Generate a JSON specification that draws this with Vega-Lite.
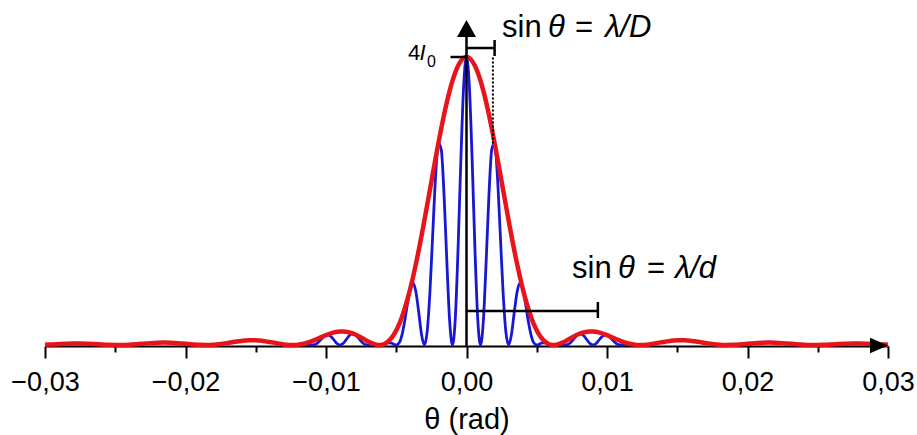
{
  "$schema": "https://vega.github.io/schema/vega-lite/v6.json",
  "width": 843,
  "height": 328,
  "autosize": {"type": "none"},
  "padding": {"left": 45, "top": 18, "right": 29, "bottom": 89},
  "background": "white",
  "config": {"view": {"stroke": null}, "font": "Liberation Sans"},
  "datasets": {
    "blue": [
      {"x": -0.013, "y": 0}, {"x": -0.0128, "y": 0.0004}, {"x": -0.0126, "y": 0.0003}, {"x": -0.0124, "y": 0}, {"x": -0.0122, "y": 0.001},
      {"x": -0.012, "y": 0.0044}, {"x": -0.0118, "y": 0.0091}, {"x": -0.0116, "y": 0.0118}, {"x": -0.0114, "y": 0.0098}, {"x": -0.0112, "y": 0.0039},
      {"x": -0.011, "y": 0}, {"x": -0.0108, "y": 0.0067}, {"x": -0.0106, "y": 0.03}, {"x": -0.0104, "y": 0.0679}, {"x": -0.0102, "y": 0.1092},
      {"x": -0.01, "y": 0.137}, {"x": -0.0098, "y": 0.1375}, {"x": -0.0096, "y": 0.1081}, {"x": -0.0094, "y": 0.0608}, {"x": -0.0092, "y": 0.0175},
      {"x": -0.009, "y": 0}, {"x": -0.0088, "y": 0.018}, {"x": -0.0086, "y": 0.064}, {"x": -0.0084, "y": 0.1165}, {"x": -0.0082, "y": 0.1509},
      {"x": -0.008, "y": 0.1522}, {"x": -0.0078, "y": 0.1217}, {"x": -0.0076, "y": 0.0749}, {"x": -0.0074, "y": 0.0321}, {"x": -0.0072, "y": 0.0068},
      {"x": -0.007, "y": 0}, {"x": -0.0068, "y": 0.0029}, {"x": -0.0066, "y": 0.005}, {"x": -0.0064, "y": 0.0026}, {"x": -0.0062, "y": 0},
      {"x": -0.006, "y": 0.0044}, {"x": -0.0058, "y": 0.017}, {"x": -0.0056, "y": 0.0291}, {"x": -0.0054, "y": 0.0287}, {"x": -0.0052, "y": 0.013},
      {"x": -0.005, "y": 0}, {"x": -0.0048, "y": 0.0274}, {"x": -0.0046, "y": 0.1336}, {"x": -0.0044, "y": 0.3294}, {"x": -0.0042, "y": 0.5753},
      {"x": -0.004, "y": 0.7849}, {"x": -0.0038, "y": 0.8582}, {"x": -0.0036, "y": 0.7373}, {"x": -0.0034, "y": 0.4549}, {"x": -0.0032, "y": 0.1449},
      {"x": -0.003, "y": 0}, {"x": -0.0028, "y": 0.1854}, {"x": -0.0026, "y": 0.7462}, {"x": -0.0024, "y": 1.5567}, {"x": -0.0022, "y": 2.3468},
      {"x": -0.002, "y": 2.805}, {"x": -0.0018, "y": 2.7197}, {"x": -0.0016, "y": 2.0924}, {"x": -0.0014, "y": 1.1652}, {"x": -0.0012, "y": 0.3372},
      {"x": -0.001, "y": 0}, {"x": -0.0008, "y": 0.3615}, {"x": -0.0006, "y": 1.3399}, {"x": -0.0004, "y": 2.5824}, {"x": -0.0002, "y": 3.6057},
      {"x": 0, "y": 4},
      {"x": 0.0002, "y": 3.6057}, {"x": 0.0004, "y": 2.5824}, {"x": 0.0006, "y": 1.3399}, {"x": 0.0008, "y": 0.3615}, {"x": 0.001, "y": 0},
      {"x": 0.0012, "y": 0.3372}, {"x": 0.0014, "y": 1.1652}, {"x": 0.0016, "y": 2.0924}, {"x": 0.0018, "y": 2.7197}, {"x": 0.002, "y": 2.805},
      {"x": 0.0022, "y": 2.3468}, {"x": 0.0024, "y": 1.5567}, {"x": 0.0026, "y": 0.7462}, {"x": 0.0028, "y": 0.1854}, {"x": 0.003, "y": 0},
      {"x": 0.0032, "y": 0.1449}, {"x": 0.0034, "y": 0.4549}, {"x": 0.0036, "y": 0.7373}, {"x": 0.0038, "y": 0.8582}, {"x": 0.004, "y": 0.7849},
      {"x": 0.0042, "y": 0.5753}, {"x": 0.0044, "y": 0.3294}, {"x": 0.0046, "y": 0.1336}, {"x": 0.0048, "y": 0.0274}, {"x": 0.005, "y": 0},
      {"x": 0.0052, "y": 0.013}, {"x": 0.0054, "y": 0.0287}, {"x": 0.0056, "y": 0.0291}, {"x": 0.0058, "y": 0.017}, {"x": 0.006, "y": 0.0044},
      {"x": 0.0062, "y": 0}, {"x": 0.0064, "y": 0.0026}, {"x": 0.0066, "y": 0.005}, {"x": 0.0068, "y": 0.0029}, {"x": 0.007, "y": 0},
      {"x": 0.0072, "y": 0.0068}, {"x": 0.0074, "y": 0.0321}, {"x": 0.0076, "y": 0.0749}, {"x": 0.0078, "y": 0.1217}, {"x": 0.008, "y": 0.1522},
      {"x": 0.0082, "y": 0.1509}, {"x": 0.0084, "y": 0.1165}, {"x": 0.0086, "y": 0.064}, {"x": 0.0088, "y": 0.018}, {"x": 0.009, "y": 0},
      {"x": 0.0092, "y": 0.0175}, {"x": 0.0094, "y": 0.0608}, {"x": 0.0096, "y": 0.1081}, {"x": 0.0098, "y": 0.1375}, {"x": 0.01, "y": 0.137},
      {"x": 0.0102, "y": 0.1092}, {"x": 0.0104, "y": 0.0679}, {"x": 0.0106, "y": 0.03}, {"x": 0.0108, "y": 0.0067}, {"x": 0.011, "y": 0},
      {"x": 0.0112, "y": 0.0039}, {"x": 0.0114, "y": 0.0098}, {"x": 0.0116, "y": 0.0118}, {"x": 0.0118, "y": 0.0091}, {"x": 0.012, "y": 0.0044},
      {"x": 0.0122, "y": 0.001}, {"x": 0.0124, "y": 0}, {"x": 0.0126, "y": 0.0003}, {"x": 0.0128, "y": 0.0004}, {"x": 0.013, "y": 0}
    ],
    "red": [
      {"x": -0.03, "y": 0.0041}, {"x": -0.0295, "y": 0.0085}, {"x": -0.029, "y": 0.0133}, {"x": -0.0285, "y": 0.0175}, {"x": -0.028, "y": 0.0198},
      {"x": -0.0275, "y": 0.0198}, {"x": -0.027, "y": 0.0172}, {"x": -0.0265, "y": 0.0128}, {"x": -0.026, "y": 0.0075}, {"x": -0.0255, "y": 0.0029},
      {"x": -0.025, "y": 0.0003}, {"x": -0.0245, "y": 0.0006}, {"x": -0.024, "y": 0.0042}, {"x": -0.0235, "y": 0.0106}, {"x": -0.023, "y": 0.0184},
      {"x": -0.0225, "y": 0.026}, {"x": -0.022, "y": 0.0315}, {"x": -0.0215, "y": 0.0334}, {"x": -0.021, "y": 0.0311}, {"x": -0.0205, "y": 0.025},
      {"x": -0.02, "y": 0.0165}, {"x": -0.0195, "y": 0.008}, {"x": -0.019, "y": 0.0018}, {"x": -0.0185, "y": 0.0001}, {"x": -0.018, "y": 0.0043},
      {"x": -0.0175, "y": 0.0142}, {"x": -0.017, "y": 0.0283}, {"x": -0.0165, "y": 0.0438}, {"x": -0.016, "y": 0.057}, {"x": -0.0155, "y": 0.0649},
      {"x": -0.015, "y": 0.0649}, {"x": -0.0145, "y": 0.0567}, {"x": -0.014, "y": 0.0418}, {"x": -0.0135, "y": 0.0239},
      {"x": -0.013, "y": 0.0083}, {"x": -0.0128, "y": 0.0039}, {"x": -0.0126, "y": 0.001}, {"x": -0.0124, "y": 0}, {"x": -0.0122, "y": 0.0011},
      {"x": -0.012, "y": 0.0044}, {"x": -0.0118, "y": 0.01}, {"x": -0.0116, "y": 0.018}, {"x": -0.0114, "y": 0.0282}, {"x": -0.0112, "y": 0.0405},
      {"x": -0.011, "y": 0.0546}, {"x": -0.0108, "y": 0.0702}, {"x": -0.0106, "y": 0.0867}, {"x": -0.0104, "y": 0.1037}, {"x": -0.0102, "y": 0.1207},
      {"x": -0.01, "y": 0.137}, {"x": -0.0098, "y": 0.152}, {"x": -0.0096, "y": 0.1652}, {"x": -0.0094, "y": 0.1759}, {"x": -0.0092, "y": 0.1836},
      {"x": -0.009, "y": 0.1879}, {"x": -0.0088, "y": 0.1885}, {"x": -0.0086, "y": 0.1852}, {"x": -0.0084, "y": 0.178}, {"x": -0.0082, "y": 0.1669},
      {"x": -0.008, "y": 0.1522}, {"x": -0.0078, "y": 0.1345}, {"x": -0.0076, "y": 0.1144}, {"x": -0.0074, "y": 0.0928}, {"x": -0.0072, "y": 0.0708},
      {"x": -0.007, "y": 0.0494}, {"x": -0.0068, "y": 0.0302}, {"x": -0.0066, "y": 0.0145}, {"x": -0.0064, "y": 0.0039}, {"x": -0.0062, "y": 0},
      {"x": -0.006, "y": 0.0044}, {"x": -0.0058, "y": 0.0188}, {"x": -0.0056, "y": 0.0445}, {"x": -0.0054, "y": 0.0831}, {"x": -0.0052, "y": 0.1357},
      {"x": -0.005, "y": 0.2034}, {"x": -0.0048, "y": 0.2869}, {"x": -0.0046, "y": 0.3868}, {"x": -0.0044, "y": 0.5032}, {"x": -0.0042, "y": 0.6361},
      {"x": -0.004, "y": 0.7849}, {"x": -0.0038, "y": 0.9487}, {"x": -0.0036, "y": 1.1266}, {"x": -0.0034, "y": 1.3168}, {"x": -0.0032, "y": 1.5175},
      {"x": -0.003, "y": 1.7266}, {"x": -0.0028, "y": 1.9416}, {"x": -0.0026, "y": 2.1598}, {"x": -0.0024, "y": 2.3785}, {"x": -0.0022, "y": 2.5946},
      {"x": -0.002, "y": 2.805}, {"x": -0.0018, "y": 3.0068}, {"x": -0.0016, "y": 3.1969}, {"x": -0.0014, "y": 3.3725}, {"x": -0.0012, "y": 3.5307},
      {"x": -0.001, "y": 3.6692}, {"x": -0.0008, "y": 3.7857}, {"x": -0.0006, "y": 3.8783}, {"x": -0.0004, "y": 3.9455}, {"x": -0.0002, "y": 3.9863},
      {"x": 0, "y": 4},
      {"x": 0.0002, "y": 3.9863}, {"x": 0.0004, "y": 3.9455}, {"x": 0.0006, "y": 3.8783}, {"x": 0.0008, "y": 3.7857}, {"x": 0.001, "y": 3.6692},
      {"x": 0.0012, "y": 3.5307}, {"x": 0.0014, "y": 3.3725}, {"x": 0.0016, "y": 3.1969}, {"x": 0.0018, "y": 3.0068}, {"x": 0.002, "y": 2.805},
      {"x": 0.0022, "y": 2.5946}, {"x": 0.0024, "y": 2.3785}, {"x": 0.0026, "y": 2.1598}, {"x": 0.0028, "y": 1.9416}, {"x": 0.003, "y": 1.7266},
      {"x": 0.0032, "y": 1.5175}, {"x": 0.0034, "y": 1.3168}, {"x": 0.0036, "y": 1.1266}, {"x": 0.0038, "y": 0.9487}, {"x": 0.004, "y": 0.7849},
      {"x": 0.0042, "y": 0.6361}, {"x": 0.0044, "y": 0.5032}, {"x": 0.0046, "y": 0.3868}, {"x": 0.0048, "y": 0.2869}, {"x": 0.005, "y": 0.2034},
      {"x": 0.0052, "y": 0.1357}, {"x": 0.0054, "y": 0.0831}, {"x": 0.0056, "y": 0.0445}, {"x": 0.0058, "y": 0.0188}, {"x": 0.006, "y": 0.0044},
      {"x": 0.0062, "y": 0}, {"x": 0.0064, "y": 0.0039}, {"x": 0.0066, "y": 0.0145}, {"x": 0.0068, "y": 0.0302}, {"x": 0.007, "y": 0.0494},
      {"x": 0.0072, "y": 0.0708}, {"x": 0.0074, "y": 0.0928}, {"x": 0.0076, "y": 0.1144}, {"x": 0.0078, "y": 0.1345}, {"x": 0.008, "y": 0.1522},
      {"x": 0.0082, "y": 0.1669}, {"x": 0.0084, "y": 0.178}, {"x": 0.0086, "y": 0.1852}, {"x": 0.0088, "y": 0.1885}, {"x": 0.009, "y": 0.1879},
      {"x": 0.0092, "y": 0.1836}, {"x": 0.0094, "y": 0.1759}, {"x": 0.0096, "y": 0.1652}, {"x": 0.0098, "y": 0.152}, {"x": 0.01, "y": 0.137},
      {"x": 0.0102, "y": 0.1207}, {"x": 0.0104, "y": 0.1037}, {"x": 0.0106, "y": 0.0867}, {"x": 0.0108, "y": 0.0702}, {"x": 0.011, "y": 0.0546},
      {"x": 0.0112, "y": 0.0405}, {"x": 0.0114, "y": 0.0282}, {"x": 0.0116, "y": 0.018}, {"x": 0.0118, "y": 0.01}, {"x": 0.012, "y": 0.0044},
      {"x": 0.0122, "y": 0.0011}, {"x": 0.0124, "y": 0}, {"x": 0.0126, "y": 0.001}, {"x": 0.0128, "y": 0.0039}, {"x": 0.013, "y": 0.0083},
      {"x": 0.0135, "y": 0.0239}, {"x": 0.014, "y": 0.0418}, {"x": 0.0145, "y": 0.0567}, {"x": 0.015, "y": 0.0649}, {"x": 0.0155, "y": 0.0649},
      {"x": 0.016, "y": 0.057}, {"x": 0.0165, "y": 0.0438}, {"x": 0.017, "y": 0.0283}, {"x": 0.0175, "y": 0.0142}, {"x": 0.018, "y": 0.0043},
      {"x": 0.0185, "y": 0.0001}, {"x": 0.019, "y": 0.0018}, {"x": 0.0195, "y": 0.008}, {"x": 0.02, "y": 0.0165}, {"x": 0.0205, "y": 0.025},
      {"x": 0.021, "y": 0.0311}, {"x": 0.0215, "y": 0.0334}, {"x": 0.022, "y": 0.0315}, {"x": 0.0225, "y": 0.026}, {"x": 0.023, "y": 0.0184},
      {"x": 0.0235, "y": 0.0106}, {"x": 0.024, "y": 0.0042}, {"x": 0.0245, "y": 0.0006}, {"x": 0.025, "y": 0.0003}, {"x": 0.0255, "y": 0.0029},
      {"x": 0.026, "y": 0.0075}, {"x": 0.0265, "y": 0.0128}, {"x": 0.027, "y": 0.0172}, {"x": 0.0275, "y": 0.0198}, {"x": 0.028, "y": 0.0198},
      {"x": 0.0285, "y": 0.0175}, {"x": 0.029, "y": 0.0133}, {"x": 0.0295, "y": 0.0085}, {"x": 0.03, "y": 0.0041}
    ],
    "lines": [
      {"x": 0, "y": -0.0139, "x2": 0, "y2": 4.278},
      {"x": -0.00114, "y": 4, "x2": 0, "y2": 4},
      {"x": 0, "y": 4.125, "x2": 0.002, "y2": 4.125},
      {"x": 0.002, "y": 4.014, "x2": 0.002, "y2": 4.236},
      {"x": 0, "y": 0.472, "x2": 0.00935, "y2": 0.472},
      {"x": 0.00935, "y": 0.375, "x2": 0.00935, "y2": 0.597}
    ],
    "dotted": [
      {"x": 0.00188, "y": 2.8, "x2": 0.00188, "y2": 4.0}
    ],
    "textNormal": [
      {"x": 0.00253, "y": 4.278, "t": "sin"},
      {"x": 0.00772, "y": 4.278, "t": "="},
      {"x": 0.00751, "y": 0.931, "t": "sin"},
      {"x": 0.01285, "y": 0.931, "t": "="}
    ],
    "textItalic": [
      {"x": 0.0058, "y": 4.278, "t": "θ"},
      {"x": 0.00986, "y": 4.278, "t": "λ/D"},
      {"x": 0.01078, "y": 0.931, "t": "θ"},
      {"x": 0.01484, "y": 0.931, "t": "λ/d"}
    ]
  },
  "encoding": {
    "x": {
      "field": "x",
      "type": "quantitative",
      "scale": {"domain": [-0.03, 0.03], "nice": false, "zero": false},
      "axis": {
        "values": [-0.03, -0.025, -0.02, -0.015, -0.01, -0.005, 0, 0.005, 0.01, 0.015, 0.02, 0.025, 0.03],
        "labelExpr": "round(datum.value*1000) % 10 == 0 ? replace(format(datum.value, '.2f'), '.', ',') : ''",
        "tickSize": {"condition": {"test": "round(datum.value*1000) % 10 == 0", "value": 12}, "value": 6},
        "tickColor": "black",
        "tickWidth": 2,
        "domainColor": "black",
        "domainWidth": 2,
        "grid": false,
        "labelFont": "Liberation Sans",
        "labelFontSize": 27,
        "labelColor": "black",
        "labelPadding": 11,
        "labelFlush": false,
        "labelOverlap": false,
        "title": "θ (rad)",
        "titleFont": "Liberation Sans",
        "titleFontSize": 29,
        "titleFontWeight": "normal",
        "titleColor": "black",
        "titlePadding": 10
      }
    },
    "y": {
      "field": "y",
      "type": "quantitative",
      "scale": {"domain": [-0.0139, 4.542], "nice": false, "zero": false},
      "axis": null
    }
  },
  "layer": [
    {
      "data": {"name": "blue"},
      "mark": {"type": "line", "color": "#1818d4", "strokeWidth": 2.8, "interpolate": "monotone"}
    },
    {
      "data": {"name": "red"},
      "mark": {"type": "line", "color": "#e8141c", "strokeWidth": 4.5, "interpolate": "monotone"}
    },
    {
      "data": {"name": "lines"},
      "mark": {"type": "rule", "color": "black", "strokeWidth": 2.5},
      "encoding": {"x2": {"field": "x2"}, "y2": {"field": "y2"}}
    },
    {
      "data": {"name": "dotted"},
      "mark": {"type": "rule", "color": "black", "strokeWidth": 2, "strokeDash": [2, 2]},
      "encoding": {"x2": {"field": "x2"}, "y2": {"field": "y2"}}
    },
    {
      "data": {"values": [{"x": 0.02936, "y": -0.007}]},
      "mark": {"type": "point", "shape": "M-1,-0.85L1,0L-1,0.85Z", "filled": true, "color": "black", "opacity": 1, "size": 324}
    },
    {
      "data": {"values": [{"x": 0, "y": 4.396}]},
      "mark": {"type": "point", "shape": "M-1,0.9L0,-0.9L1,0.9Z", "filled": true, "color": "black", "opacity": 1, "size": 361}
    },
    {
      "data": {"name": "textNormal"},
      "mark": {"type": "text", "align": "left", "baseline": "alphabetic", "font": "Liberation Sans", "fontSize": 31, "color": "black"},
      "encoding": {"text": {"field": "t"}}
    },
    {
      "data": {"name": "textItalic"},
      "mark": {"type": "text", "align": "left", "baseline": "alphabetic", "font": "Liberation Sans", "fontSize": 31, "fontStyle": "italic", "color": "black"},
      "encoding": {"text": {"field": "t"}}
    },
    {
      "data": {"values": [{"x": -0.00416, "y": 3.958, "t": "4"}]},
      "mark": {"type": "text", "align": "left", "baseline": "alphabetic", "font": "Liberation Sans", "fontSize": 22, "color": "black"},
      "encoding": {"text": {"field": "t"}}
    },
    {
      "data": {"values": [{"x": -0.00335, "y": 3.958, "t": "I"}]},
      "mark": {"type": "text", "align": "left", "baseline": "alphabetic", "font": "Liberation Sans", "fontSize": 22, "fontStyle": "italic", "color": "black"},
      "encoding": {"text": {"field": "t"}}
    },
    {
      "data": {"values": [{"x": -0.00281, "y": 3.861, "t": "0"}]},
      "mark": {"type": "text", "align": "left", "baseline": "alphabetic", "font": "Liberation Sans", "fontSize": 16, "color": "black"},
      "encoding": {"text": {"field": "t"}}
    }
  ]
}
